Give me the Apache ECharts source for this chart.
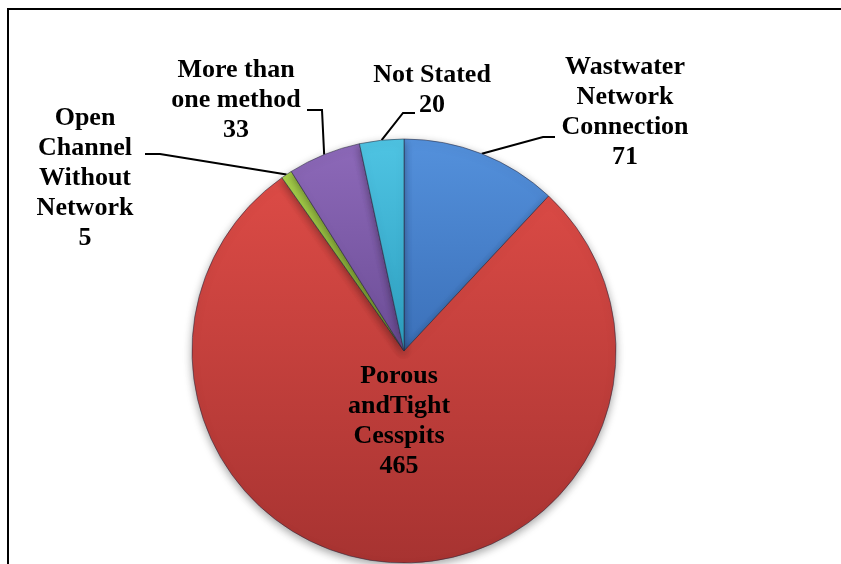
<!DOCTYPE html>
<html>
<head>
<meta charset="utf-8">
<script src="https://cdn.jsdelivr.net/npm/echarts@6/dist/echarts.min.js"></script>
<style>html,body{margin:0;padding:0;background:#fff;}#c{width:841px;height:564px;}</style>
</head>
<body>
<div id="c"></div>
<script>
var categories = ['Wastwater\nNetwork\nConnection', 'Porous\nandTight\nCesspits', 'Open\nChannel\nWithout\nNetwork', 'More than\none method', 'Not Stated'];
var values = [71, 465, 5, 33, 20];
var colorsTop = ['#5491dc', '#dc4b46', '#a8d24c', '#8d69b9', '#4fc4e3'];
var colorsBottom = ['#3b70b9', '#a73331', '#86ab35', '#6c4d96', '#2d9fc0'];
var labelPos = [[625, 112], [399, 421], [85, 178], [236, 100], [432, 90]];
// leader line elbow and end points (layout only)
var leaderTail = [
  [[543, 137], [555, 137]],
  null,
  [[160, 154], [145, 154]],
  [[322, 110], [307, 110]],
  [[403, 113], [415, 113]]
];

var chart = echarts.init(document.getElementById('c'));
var data = categories.map(function (n, i) {
  return {
    name: n,
    value: values[i],
    itemStyle: {
      color: {
        type: 'linear', x: 0, y: 0, x2: 0, y2: 1,
        colorStops: [{offset: 0, color: colorsTop[i]}, {offset: 1, color: colorsBottom[i]}]
      }
    },
    labelLine: {show: i !== 1}
  };
});
chart.setOption({
  animation: false,
  backgroundColor: '#fff',
  graphic: [{
    type: 'rect', shape: {x: 8, y: 9, width: 900, height: 700},
    style: {fill: 'none', stroke: '#000', lineWidth: 2}, z: 100
  }],
  series: [{
    type: 'pie',
    center: [404, 351],
    radius: 212,
    startAngle: 90,
    clockwise: true,
    data: data,
    itemStyle: {
      borderColor: 'rgba(40,40,60,0.55)', borderWidth: 1,
      shadowBlur: 8, shadowColor: 'rgba(0,0,0,0.35)', shadowOffsetY: 3
    },
    label: {
      show: true,
      formatter: '{b}\n{c}',
      fontFamily: 'Liberation Serif',
      fontWeight: 'bold',
      fontSize: 26,
      lineHeight: 30,
      color: '#000',
      align: 'center'
    },
    labelLine: {
      show: true, length: 20, length2: 12,
      lineStyle: {color: '#000', width: 2}
    },
    labelLayout: function (p) {
      var pos = labelPos[p.dataIndex];
      var res = {x: pos[0], y: pos[1], align: 'center', verticalAlign: 'middle'};
      var tail = leaderTail[p.dataIndex];
      if (tail && p.labelLinePoints) {
        res.labelLinePoints = [p.labelLinePoints[0].slice(), tail[0], tail[1]];
      }
      return res;
    }
  }]
});
</script>
</body>
</html>
